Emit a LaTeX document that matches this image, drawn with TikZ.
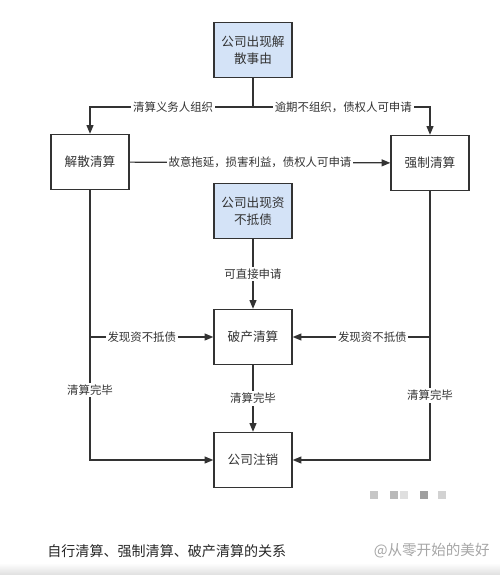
\documentclass[tikz,border=0pt]{standalone}
\usepackage{fontspec}
\setmainfont{Noto Sans CJK SC}
\usetikzlibrary{arrows.meta}
\definecolor{evtblue}{HTML}{D4E3F7}
\definecolor{inkgray}{HTML}{333333}
\begin{document}
\begin{tikzpicture}[x=0.02cm,y=-0.02cm]
  \tikzset{stage box/.style={draw=inkgray,line width=0.8pt,fill=#1,minimum width=1.56cm,minimum height=1.1cm,align=center,text=inkgray,font=\fontsize{7.2pt}{9.5pt}\selectfont,inner sep=1pt},
    stage box/.default=white,
    flow/.style={draw=inkgray,line width=0.7pt,-{Triangle[length=5pt,width=4pt]}},
    flow label/.style={fill=white,text=inkgray,font=\fontsize{6.5pt}{8pt}\selectfont,inner sep=1pt}}
  \useasboundingbox (0,0) rectangle (500,575);
  % boxes
  \node [stage box=evtblue] (cause) at (253,50) {公司出现解\\散事由};
  \node [stage box] (jiesan) at (90,162) {解散清算};
  \node [stage box] (qiangzhi) at (430,163) {强制清算};
  \node [stage box=evtblue] (insolv) at (253,211) {公司出现资\\不抵债};
  \node [stage box] (pochan) at (253,337) {破产清算};
  \node [stage box] (zhuxiao) at (253,460) {公司注销};
  \coordinate (split) at (253,107);
  \coordinate (leftfind) at (90,337);
  \coordinate (rightfind) at (430,337);
  % connectors
  \draw [draw=inkgray,line width=0.7pt] (cause) -- (split);
  \draw [flow] (split) -| (jiesan) node [flow label,pos=0.245] {清算义务人组织};
  \draw [flow] (split) -| (qiangzhi) node [flow label,pos=0.255] {逾期不组织，债权人可申请};
  \draw [flow] (jiesan) -- (qiangzhi) node [flow label,midway] {故意拖延，损害利益，债权人可申请};
  \draw [flow] (insolv) -- (pochan) node [flow label,midway] {可直接申请};
  \draw [flow] (jiesan) |- (zhuxiao) node [flow label,pos=0.37] {清算完毕};
  \draw [flow] (qiangzhi) |- (zhuxiao) node [flow label,pos=0.38] {清算完毕};
  \draw [flow] (leftfind) -- (pochan) node [flow label,pos=0.42] {发现资不抵债};
  \draw [flow] (rightfind) -- (pochan) node [flow label,pos=0.42] {发现资不抵债};
  \draw [flow] (pochan) -- (zhuxiao) node [flow label,midway] {清算完毕};
  % blurred mark
  \fill [gray!45] (370,491) rectangle (378,499);
  \fill [gray!55] (390,491) rectangle (398,499);
  \fill [gray!25] (400,491) rectangle (408,499);
  \fill [gray!75] (420,491) rectangle (428,499);
  \fill [gray!35] (438,491) rectangle (446,499);
  % caption
  \node [anchor=west,text=black!85,font=\fontsize{8pt}{10pt}\selectfont,inner sep=0pt] (caption) at (47,551) {自行清算、强制清算、破产清算的关系};
  \node [anchor=east,text=gray!70,font=\fontsize{8.3pt}{10pt}\selectfont,inner sep=0pt] (mark) at (490,551) {@从零开始的美好};
  \shade [top color=white,bottom color=gray!25] (0,563) rectangle (500,575);
\end{tikzpicture}
\end{document}
